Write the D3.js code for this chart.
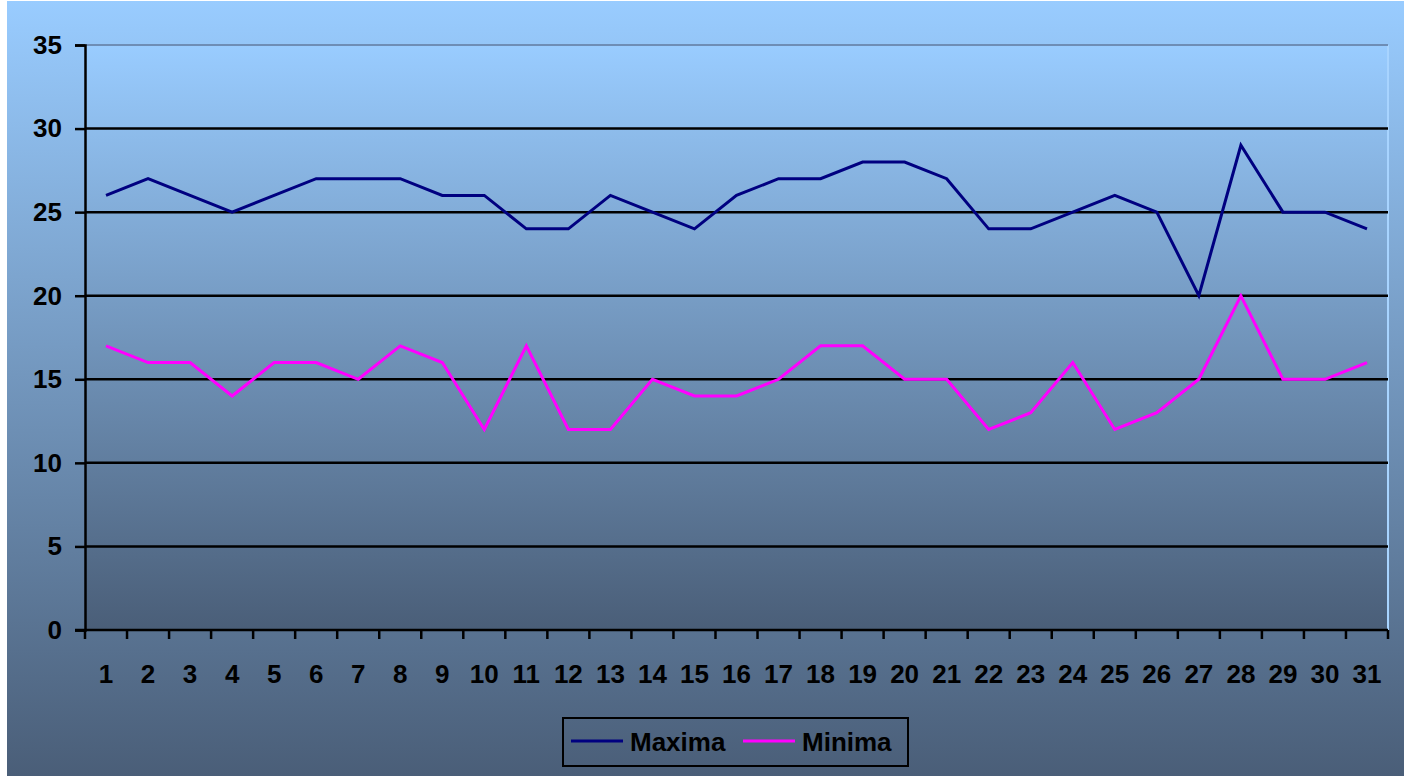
<!DOCTYPE html>
<html>
<head>
<meta charset="utf-8">
<script src="https://cdn.jsdelivr.net/npm/d3@7"></script>
<style>
  html, body { margin: 0; padding: 0; background: #ffffff; }
  svg { display: block; }
  text { font-family: Arial, "Liberation Sans", sans-serif; font-weight: bold; fill: #000; }
</style>
</head>
<body>
<svg id="chart" width="1404" height="776"></svg>
<script>
// Daily temperatures for one month
const days = d3.range(1, 32);
const maxima = [26,27,26,25,26,27,27,27,26,26,24,24,26,25,24,26,27,27,28,28,27,24,24,25,26,25,20,29,25,25,24];
const minima = [17,16,16,14,16,16,15,17,16,12,17,12,12,15,14,14,15,17,17,15,15,12,13,16,12,13,15,20,15,15,16];
const yTicks = [0, 5, 10, 15, 20, 25, 30, 35];
const seriesNames = ["Maxima", "Minima"];
const seriesColors = ["#000080", "#FF00FF"];

const W = 1404, H = 776;
const plot = { left: 85, right: 1388, top: 45, bottom: 630 };

const svg = d3.select("#chart");
const defs = svg.append("defs");

function vGrad(id) {
  const g = defs.append("linearGradient").attr("id", id)
    .attr("x1", 0).attr("y1", 0).attr("x2", 0).attr("y2", 1);
  g.append("stop").attr("offset", "0%").attr("stop-color", "#99CCFF");
  g.append("stop").attr("offset", "100%").attr("stop-color", "#4A5E78");
}
vGrad("chartBg");
vGrad("plotBg");

// chart area
svg.append("rect").attr("x", 7).attr("y", 1).attr("width", W - 7).attr("height", H - 1)
  .attr("fill", "url(#chartBg)");

// plot area
svg.append("rect").attr("x", plot.left).attr("y", plot.top)
  .attr("width", plot.right - plot.left).attr("height", plot.bottom - plot.top)
  .attr("fill", "url(#plotBg)");
svg.append("line").attr("x1", plot.right).attr("x2", plot.right)
  .attr("y1", plot.top).attr("y2", plot.bottom)
  .attr("stroke", "#A8D4FF").attr("stroke-width", 2);

const x = d3.scaleBand().domain(days).range([plot.left, plot.right]);
const y = d3.scaleLinear().domain([0, 35]).range([plot.bottom, plot.top]);

// horizontal gridlines
svg.append("g").selectAll("line").data(yTicks.filter(d => d > 0)).join("line")
  .attr("x1", plot.left).attr("x2", plot.right)
  .attr("y1", d => y(d)).attr("y2", d => y(d))
  .attr("stroke", d => d === 35 ? "#6E8DB5" : "#000")
  .attr("stroke-width", d => d === 35 ? 2 : 2.5);

// y axis
const yAxis = svg.append("g").attr("transform", `translate(${plot.left},0)`)
  .call(d3.axisLeft(y).tickValues(yTicks).tickSize(10).tickPadding(13));
yAxis.select(".domain").attr("stroke", "#000").attr("stroke-width", 2.5);
yAxis.selectAll(".tick line").attr("stroke", "#000").attr("stroke-width", 2.5);
yAxis.selectAll(".tick text").attr("font-size", 26).attr("font-family", "Arial, 'Liberation Sans', sans-serif")
  .attr("font-weight", "bold").attr("fill", "#000");

// x axis with ticks at category boundaries
const xg = svg.append("g").attr("transform", `translate(0,${plot.bottom})`);
xg.append("line").attr("x1", plot.left - 10).attr("x2", plot.right)
  .attr("stroke", "#000").attr("stroke-width", 2.5);
const bounds = days.map(d => x(d)).concat([x(days[days.length - 1]) + x.bandwidth()]);
xg.selectAll("line.tk").data(bounds).join("line").attr("class", "tk")
  .attr("x1", d => d).attr("x2", d => d).attr("y1", 0).attr("y2", 9)
  .attr("stroke", "#000").attr("stroke-width", 2.5);
xg.selectAll("text").data(days).join("text")
  .attr("x", d => x(d) + x.bandwidth() / 2).attr("y", 53)
  .attr("text-anchor", "middle").attr("font-size", 26)
  .text(d => d);

// series lines
const line = d3.line().x((d, i) => x(days[i]) + x.bandwidth() / 2).y(d => y(d));
[maxima, minima].forEach((vals, k) => {
  svg.append("path").datum(vals).attr("d", line)
    .attr("fill", "none").attr("stroke", seriesColors[k])
    .attr("stroke-width", 3).attr("stroke-linejoin", "miter");
});

// legend
const lg = svg.append("g");
lg.append("rect").attr("x", 563).attr("y", 718).attr("width", 345).attr("height", 48)
  .attr("fill", "none").attr("stroke", "#000").attr("stroke-width", 2);
const legendX = [571, 743];
seriesNames.forEach((name, k) => {
  lg.append("line").attr("x1", legendX[k]).attr("x2", legendX[k] + 52)
    .attr("y1", 741).attr("y2", 741)
    .attr("stroke", seriesColors[k]).attr("stroke-width", 3);
  lg.append("text").attr("x", legendX[k] + 59).attr("y", 751)
    .attr("font-size", 26).text(name);
});
</script>
</body>
</html>
